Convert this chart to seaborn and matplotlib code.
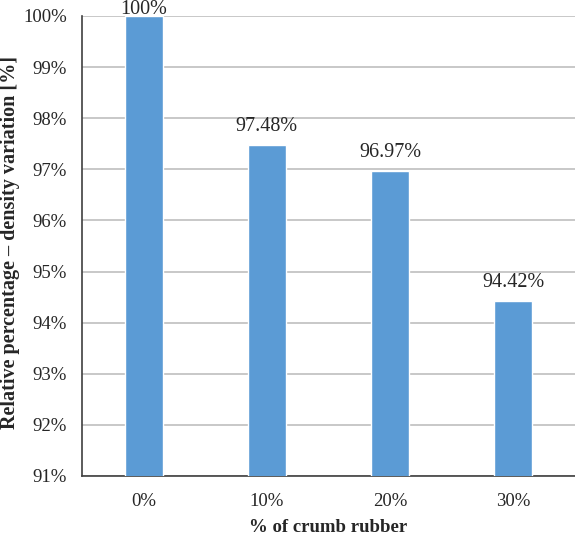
import matplotlib
matplotlib.use("Agg")
import matplotlib.pyplot as plt
import seaborn as sns
import pandas as pd

categories = ["0%", "10%", "20%", "30%"]
values = [100.0, 97.48, 96.97, 94.42]
bar_labels = ["100%", "97.48%", "96.97%", "94.42%"]
yticks = [91, 92, 93, 94, 95, 96, 97, 98, 99, 100]

sns.set_style("white")
plt.rcParams["font.family"] = ["Liberation Serif", "DejaVu Serif"]

df = pd.DataFrame({"rubber": categories, "density": values})

fig = plt.figure(figsize=(5.75, 5.35), dpi=100)
ax = fig.add_axes([0.1426, 0.1103, 0.8574, 0.8598])

sns.barplot(data=df, x="rubber", y="density", color="#5B9BD5", saturation=1,
            width=0.31, ax=ax, zorder=3)

ax.set_ylim(91, 100)
ax.set_xlim(-0.5, 3.5)
ax.set_yticks(yticks)
ax.set_yticklabels([f"{t}%" for t in yticks], fontsize=13.5)
ax.set_xticks(range(len(categories)))
ax.set_xticklabels(categories, fontsize=13.5)
ax.tick_params(axis="both", length=0)
ax.tick_params(axis="y", pad=11)
ax.tick_params(axis="x", pad=12)

ax.yaxis.grid(True, color="#BFBFBF", linewidth=1.2, zorder=0)
ax.set_axisbelow(True)
for s in ["top", "right"]:
    ax.spines[s].set_visible(False)
ax.spines["left"].set_color("#404040")
ax.spines["bottom"].set_color("#404040")
ax.spines["left"].set_linewidth(1.2)
ax.spines["bottom"].set_linewidth(1.2)

for i, (v, lab) in enumerate(zip(values, bar_labels)):
    # Excel keeps the top label inside the chart area
    off = 1.5 if v >= 100 else 10
    ax.annotate(lab, (i, v), xytext=(0, off), textcoords="offset points",
                ha="center", va="baseline", fontsize=14.5, annotation_clip=False)

ax.set_xlabel("% of crumb rubber", fontsize=13.5, fontweight="bold")
ax.xaxis.set_label_coords(0.5, -0.094)
ax.set_ylabel("Relative percentage \u2013 density variation [%]", fontsize=14.5,
              fontweight="bold")
ax.yaxis.set_label_coords(-0.126, 0.507)

fig.savefig("out.png", dpi=100)
